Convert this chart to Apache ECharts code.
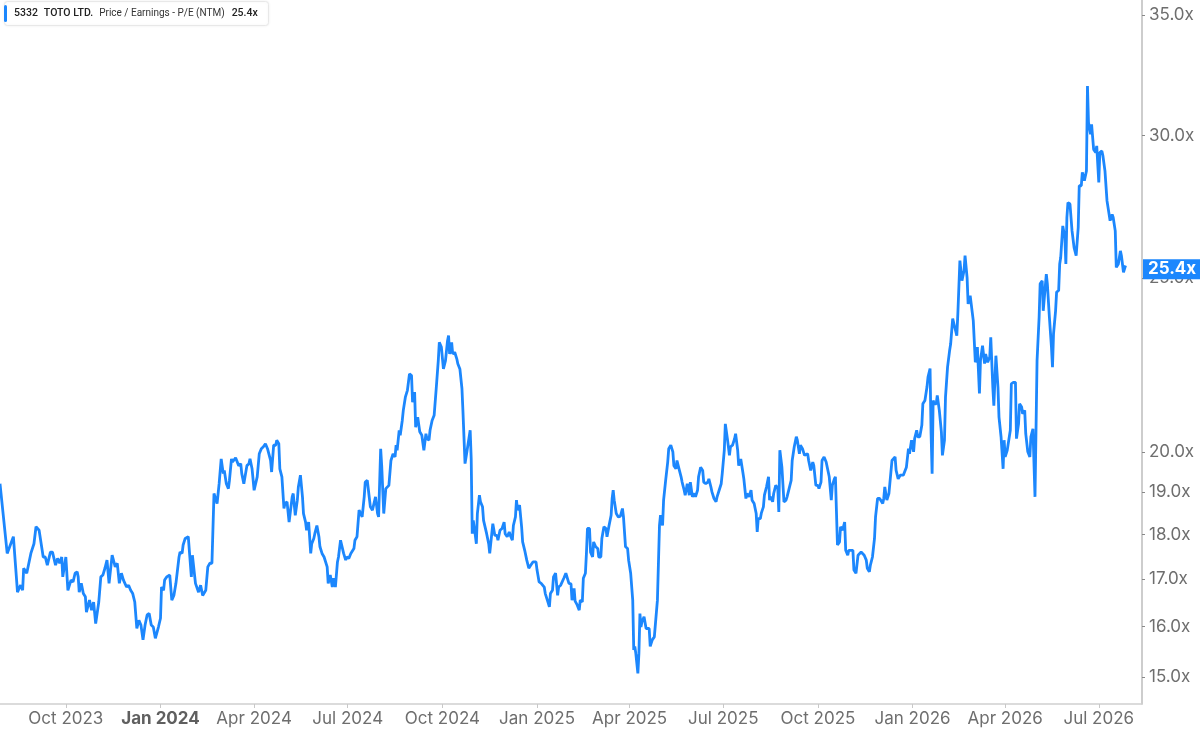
<!DOCTYPE html>
<html>
<head>
<meta charset="utf-8">
<script src="https://cdn.jsdelivr.net/npm/echarts@6.0.0/dist/echarts.min.js"></script>
<style>
html,body{margin:0;padding:0;background:#fff;}
#chart{width:1200px;height:732px;}
</style>
</head>
<body>
<div id="chart"></div>
<script>
const dates = [
"2023-07-29","2023-08-05","2023-08-11","2023-08-15","2023-08-18","2023-08-20","2023-08-21","2023-08-24","2023-08-28","2023-08-31",
"2023-09-02","2023-09-05","2023-09-09","2023-09-11","2023-09-13","2023-09-16","2023-09-18","2023-09-21","2023-09-23","2023-09-25",
"2023-09-27","2023-09-28","2023-10-01","2023-10-03","2023-10-04","2023-10-06","2023-10-08","2023-10-10","2023-10-12","2023-10-13",
"2023-10-14","2023-10-16","2023-10-18","2023-10-20","2023-10-21","2023-10-24","2023-10-26","2023-10-28","2023-10-30","2023-10-31",
"2023-11-02","2023-11-04","2023-11-06","2023-11-08","2023-11-10","2023-11-12","2023-11-15","2023-11-16","2023-11-18","2023-11-20",
"2023-11-22","2023-11-24","2023-11-26","2023-11-29","2023-12-01","2023-12-03","2023-12-05","2023-12-07","2023-12-09","2023-12-11",
"2023-12-13","2023-12-15","2023-12-17","2023-12-19","2023-12-21","2023-12-23","2023-12-25","2023-12-27","2023-12-30","2024-01-01",
"2024-01-02","2024-01-04","2024-01-05","2024-01-07","2024-01-10","2024-01-12","2024-01-14","2024-01-16","2024-01-19","2024-01-20",
"2024-01-22","2024-01-23","2024-01-25","2024-01-28","2024-01-31","2024-02-01","2024-02-02","2024-02-04","2024-02-07","2024-02-09",
"2024-02-11","2024-02-14","2024-02-16","2024-02-18","2024-02-20","2024-02-22","2024-02-23","2024-02-25","2024-02-27","2024-02-29",
"2024-03-02","2024-03-03","2024-03-05","2024-03-07","2024-03-08","2024-03-10","2024-03-11","2024-03-14","2024-03-15","2024-03-17",
"2024-03-19","2024-03-20","2024-03-22","2024-03-23","2024-03-25","2024-03-27","2024-03-28","2024-03-30","2024-04-01","2024-04-02",
"2024-04-04","2024-04-06","2024-04-08","2024-04-10","2024-04-12","2024-04-14","2024-04-15","2024-04-17","2024-04-18","2024-04-20",
"2024-04-22","2024-04-23","2024-04-25","2024-04-26","2024-04-28","2024-04-30","2024-05-01","2024-05-03","2024-05-05","2024-05-06",
"2024-05-08","2024-05-09","2024-05-11","2024-05-13","2024-05-14","2024-05-16","2024-05-18","2024-05-19","2024-05-21","2024-05-22",
"2024-05-24","2024-05-26","2024-05-27","2024-05-29","2024-05-30","2024-06-01","2024-06-03","2024-06-04","2024-06-06","2024-06-08",
"2024-06-09","2024-06-11","2024-06-12","2024-06-14","2024-06-16","2024-06-17","2024-06-19","2024-06-21","2024-06-22","2024-06-24",
"2024-06-25","2024-06-27","2024-06-29","2024-06-30","2024-07-02","2024-07-04","2024-07-05","2024-07-07","2024-07-08","2024-07-10",
"2024-07-12","2024-07-13","2024-07-15","2024-07-17","2024-07-18","2024-07-20","2024-07-21","2024-07-23","2024-07-25","2024-07-26",
"2024-07-28","2024-07-30","2024-07-31","2024-08-02","2024-08-03","2024-08-05","2024-08-07","2024-08-08","2024-08-10","2024-08-12",
"2024-08-14","2024-08-16","2024-08-17","2024-08-18","2024-08-20","2024-08-21","2024-08-23","2024-08-24","2024-08-26","2024-08-28",
"2024-08-30","2024-09-01","2024-09-02","2024-09-04","2024-09-05","2024-09-07","2024-09-09","2024-09-11","2024-09-13","2024-09-15",
"2024-09-16","2024-09-18","2024-09-19","2024-09-21","2024-09-23","2024-09-25","2024-09-27","2024-09-28","2024-09-30","2024-10-01",
"2024-10-02","2024-10-04","2024-10-06","2024-10-07","2024-10-08","2024-10-10","2024-10-11","2024-10-13","2024-10-15","2024-10-16",
"2024-10-18","2024-10-20","2024-10-21","2024-10-23","2024-10-24","2024-10-26","2024-10-28","2024-10-29","2024-10-30","2024-10-31",
"2024-11-02","2024-11-03","2024-11-04","2024-11-06","2024-11-07","2024-11-09","2024-11-10","2024-11-13","2024-11-15","2024-11-16",
"2024-11-18","2024-11-19","2024-11-21","2024-11-23","2024-11-24","2024-11-26","2024-11-28","2024-11-30","2024-12-01","2024-12-03",
"2024-12-05","2024-12-06","2024-12-08","2024-12-09","2024-12-11","2024-12-12","2024-12-13","2024-12-15","2024-12-17","2024-12-18",
"2024-12-20","2024-12-22","2024-12-24","2024-12-26","2024-12-28","2024-12-31","2025-01-01","2025-01-03","2025-01-05","2025-01-08",
"2025-01-09","2025-01-11","2025-01-13","2025-01-14","2025-01-16","2025-01-17","2025-01-19","2025-01-21","2025-01-22","2025-01-24",
"2025-01-25","2025-01-27","2025-01-29","2025-01-30","2025-02-01","2025-02-03","2025-02-04","2025-02-06","2025-02-07","2025-02-09",
"2025-02-11","2025-02-12","2025-02-14","2025-02-15","2025-02-17","2025-02-18","2025-02-19","2025-02-21","2025-02-22","2025-02-24",
"2025-02-25","2025-02-27","2025-03-01","2025-03-02","2025-03-04","2025-03-05","2025-03-07","2025-03-09","2025-03-10","2025-03-12",
"2025-03-14","2025-03-15","2025-03-16","2025-03-17","2025-03-19","2025-03-21","2025-03-23","2025-03-25","2025-03-26","2025-03-28",
"2025-03-30","2025-03-31","2025-04-02","2025-04-04","2025-04-05","2025-04-06","2025-04-07","2025-04-09","2025-04-10","2025-04-11",
"2025-04-12","2025-04-13","2025-04-15","2025-04-17","2025-04-18","2025-04-20","2025-04-21","2025-04-23","2025-04-25","2025-04-26",
"2025-04-28","2025-04-30","2025-05-01","2025-05-03","2025-05-04","2025-05-06","2025-05-08","2025-05-09","2025-05-11","2025-05-13",
"2025-05-14","2025-05-16","2025-05-17","2025-05-19","2025-05-21","2025-05-22","2025-05-24","2025-05-25","2025-05-27","2025-05-29",
"2025-05-30","2025-06-01","2025-06-03","2025-06-04","2025-06-06","2025-06-07","2025-06-09","2025-06-11","2025-06-12","2025-06-14",
"2025-06-16","2025-06-17","2025-06-19","2025-06-20","2025-06-22","2025-06-24","2025-06-25","2025-06-27","2025-06-29","2025-06-30",
"2025-07-02","2025-07-03","2025-07-05","2025-07-07","2025-07-08","2025-07-10","2025-07-12","2025-07-13","2025-07-15","2025-07-16",
"2025-07-18","2025-07-20","2025-07-21","2025-07-23","2025-07-24","2025-07-26","2025-07-28","2025-07-29","2025-07-31","2025-08-02",
"2025-08-03","2025-08-04","2025-08-06","2025-08-07","2025-08-09","2025-08-10","2025-08-12","2025-08-14","2025-08-15","2025-08-16",
"2025-08-18","2025-08-19","2025-08-21","2025-08-23","2025-08-24","2025-08-25","2025-08-27","2025-08-29","2025-08-31","2025-09-01",
"2025-09-03","2025-09-05","2025-09-06","2025-09-08","2025-09-10","2025-09-11","2025-09-13","2025-09-14","2025-09-16","2025-09-18",
"2025-09-19","2025-09-21","2025-09-22","2025-09-24","2025-09-26","2025-09-27","2025-09-29","2025-10-01","2025-10-02","2025-10-04",
"2025-10-05","2025-10-07","2025-10-09","2025-10-10","2025-10-12","2025-10-14","2025-10-15","2025-10-17","2025-10-18","2025-10-20",
"2025-10-22","2025-10-23","2025-10-25","2025-10-27","2025-10-28","2025-10-30","2025-10-31","2025-11-02","2025-11-04","2025-11-05",
"2025-11-07","2025-11-09","2025-11-10","2025-11-12","2025-11-13","2025-11-15","2025-11-17","2025-11-18","2025-11-20","2025-11-21",
"2025-11-23","2025-11-25","2025-11-26","2025-11-28","2025-11-30","2025-12-01","2025-12-03","2025-12-04","2025-12-05","2025-12-07",
"2025-12-09","2025-12-10","2025-12-12","2025-12-13","2025-12-15","2025-12-16","2025-12-18","2025-12-20","2025-12-21","2025-12-23",
"2025-12-24","2025-12-26","2025-12-28","2025-12-29","2025-12-31","2026-01-02","2026-01-03","2026-01-05","2026-01-06","2026-01-08",
"2026-01-10","2026-01-11","2026-01-13","2026-01-15","2026-01-16","2026-01-18","2026-01-19","2026-01-20","2026-01-21","2026-01-22",
"2026-01-24","2026-01-25","2026-01-27","2026-01-29","2026-01-30","2026-02-01","2026-02-02","2026-02-04","2026-02-06","2026-02-07",
"2026-02-09","2026-02-11","2026-02-12","2026-02-13","2026-02-14","2026-02-16","2026-02-18","2026-02-20","2026-02-21","2026-02-23",
"2026-02-24","2026-02-26","2026-02-27","2026-03-01","2026-03-03","2026-03-04","2026-03-05","2026-03-07","2026-03-08","2026-03-10",
"2026-03-12","2026-03-13","2026-03-15","2026-03-17","2026-03-18","2026-03-20","2026-03-21","2026-03-23","2026-03-25","2026-03-26",
"2026-03-28","2026-03-30","2026-03-31","2026-04-01","2026-04-03","2026-04-04","2026-04-06","2026-04-07","2026-04-09","2026-04-11",
"2026-04-12","2026-04-14","2026-04-15","2026-04-17","2026-04-18","2026-04-20","2026-04-21","2026-04-23","2026-04-25","2026-04-26",
"2026-04-28","2026-04-29","2026-04-30","2026-05-02","2026-05-04","2026-05-05","2026-05-07","2026-05-08","2026-05-09","2026-05-11",
"2026-05-12","2026-05-14","2026-05-16","2026-05-17","2026-05-18","2026-05-20","2026-05-21","2026-05-23","2026-05-24","2026-05-25",
"2026-05-27","2026-05-29","2026-05-30","2026-05-31","2026-06-01","2026-06-03","2026-06-05","2026-06-07","2026-06-09","2026-06-10",
"2026-06-11","2026-06-12","2026-06-14","2026-06-15","2026-06-17","2026-06-19","2026-06-20","2026-06-21","2026-06-23","2026-06-24",
"2026-06-26","2026-06-28","2026-06-29","2026-07-01","2026-07-02","2026-07-04","2026-07-05","2026-07-07","2026-07-09","2026-07-10",
"2026-07-12","2026-07-14","2026-07-15","2026-07-17","2026-07-18","2026-07-20","2026-07-22","2026-07-23","2026-07-25","2026-07-27"
];
const peValues = [
19.21,17.57,17.95,16.72,16.87,16.76,17.24,17.13,17.57,17.79,
18.18,18.10,17.49,17.49,17.31,17.60,17.60,17.31,17.46,17.35,
17.49,17.05,17.49,16.76,16.72,16.98,16.94,17.13,17.16,17.05,
16.72,16.91,16.69,16.62,16.30,16.55,16.34,16.51,16.06,16.03,
16.51,17.05,17.09,17.24,17.42,16.91,17.53,17.49,17.27,17.35,
16.91,17.13,16.98,16.83,16.87,16.76,16.69,16.51,15.96,16.13,
16.03,15.73,16.03,16.24,16.27,16.03,15.99,15.76,15.99,16.17,
16.83,16.76,16.98,17.05,17.09,16.55,16.65,16.91,17.49,17.60,
17.57,17.76,17.91,17.95,17.05,17.53,17.57,16.91,16.72,16.87,
16.65,16.76,17.27,17.35,17.35,18.97,18.89,18.73,19.21,19.83,
19.46,19.54,19.21,19.09,19.29,19.83,19.75,19.86,19.83,19.66,
19.71,19.46,19.21,19.25,19.66,19.71,19.83,19.58,19.05,19.05,
19.38,19.96,20.09,20.14,20.22,20.09,20.09,19.79,19.50,20.18,
20.18,20.31,20.22,19.58,19.38,18.61,18.73,18.77,18.29,18.29,
18.89,18.97,18.45,18.81,19.13,19.42,18.89,18.49,18.29,18.10,
18.29,17.57,17.79,17.91,18.02,18.21,17.95,17.72,17.57,17.49,
17.46,17.27,16.91,17.09,16.83,17.02,16.83,17.38,17.49,17.87,
17.87,17.57,17.42,17.49,17.46,17.57,17.57,17.68,17.87,17.95,
18.57,18.61,18.41,18.89,19.25,19.29,19.25,18.65,18.57,18.53,
18.89,18.49,18.41,20.09,19.66,18.49,19.09,19.09,19.17,19.79,
19.96,19.88,20.18,20.05,20.57,20.44,20.83,21.10,21.46,21.65,
22.11,22.06,21.32,21.60,20.65,20.92,20.53,20.44,20.05,20.48,
20.35,20.31,20.57,20.83,20.97,21.70,22.49,23.02,22.88,22.88,
22.25,22.49,23.07,23.22,22.68,23.02,22.68,22.73,22.54,22.40,
22.25,21.70,21.06,19.71,19.88,20.22,20.57,19.83,18.02,18.33,
17.98,17.79,18.49,18.93,18.77,18.65,18.33,18.02,17.79,17.57,
18.02,18.25,17.98,17.98,17.87,18.10,18.14,18.29,18.02,17.95,
18.06,17.98,17.87,18.21,18.41,18.81,18.57,18.69,18.18,17.83,
17.64,17.42,17.24,17.31,17.38,17.38,17.20,16.94,16.91,16.83,
16.69,16.55,16.41,16.69,16.76,17.05,17.13,16.65,16.83,16.87,
16.91,17.02,17.13,17.09,16.91,16.90,16.55,16.80,16.53,16.45,
16.34,16.55,16.51,17.02,17.13,17.57,18.14,18.14,17.60,17.49,
17.83,17.72,17.68,17.49,17.49,17.91,18.18,18.14,17.95,18.21,
18.45,18.85,19.05,18.81,18.49,18.41,18.43,18.61,18.41,17.72,
17.68,17.42,17.13,16.55,15.53,15.60,15.46,15.07,15.46,16.27,
15.99,16.10,16.20,15.96,15.99,15.96,15.60,15.73,15.79,15.76,
16.55,18.21,18.45,18.21,18.81,19.29,19.75,20.09,20.18,20.01,
19.66,19.58,19.79,19.58,19.38,19.25,19.05,18.93,19.21,18.93,
19.25,18.89,18.97,18.89,19.05,19.38,19.62,19.54,19.25,19.21,
19.25,19.33,19.13,19.01,18.85,18.77,18.89,19.05,19.21,19.46,
20.05,20.74,20.35,19.92,20.14,20.18,20.35,20.48,20.05,19.66,
19.83,19.50,19.33,18.85,18.97,18.89,19.05,18.81,18.73,18.49,
18.06,18.37,18.37,18.50,18.65,18.93,19.13,19.38,18.81,18.89,
18.77,18.97,19.17,19.09,18.53,20.05,19.62,18.77,18.81,18.89,
19.09,19.29,19.79,20.14,20.40,20.31,19.96,20.18,20.09,19.92,
19.96,19.96,19.79,19.54,19.75,19.66,19.17,19.17,19.09,19.25,
19.79,19.88,19.75,19.75,19.38,18.81,19.17,19.33,19.38,17.76,
17.83,18.18,18.10,18.29,17.64,17.53,17.64,17.64,17.64,17.20,
17.13,17.53,17.57,17.60,17.57,17.53,17.42,17.24,17.16,17.31,
17.49,17.91,18.41,18.85,18.85,18.81,18.73,18.85,19.13,18.81,
18.97,18.93,19.79,19.83,19.88,19.54,19.33,19.42,19.46,19.42,
19.46,19.62,20.09,19.96,20.31,20.01,20.35,20.57,20.40,20.40,
20.70,21.28,21.37,21.74,22.02,22.26,20.48,19.46,21.37,21.28,
21.28,21.51,21.10,20.53,19.92,20.31,21.46,22.30,22.78,22.97,
23.73,23.47,23.47,23.22,23.87,25.56,24.91,25.23,25.72,25.01,
24.18,24.44,24.49,23.67,22.44,22.54,22.88,21.56,22.49,22.92,
22.40,22.68,22.44,22.59,23.17,21.74,21.23,22.63,21.74,20.92,
20.40,19.58,20.31,19.88,20.05,20.09,20.57,21.83,21.87,21.87,
20.35,20.74,21.28,21.19,21.01,21.10,20.48,20.01,19.88,20.40,
20.61,20.65,18.89,22.49,23.77,24.81,24.91,23.97,24.02,25.12,
24.81,23.77,22.88,22.30,23.27,23.97,24.55,24.60,25.45,25.67,
26.72,26.33,25.45,27.01,27.53,27.48,26.55,25.99,25.72,25.67,
26.66,28.13,28.13,28.62,28.31,28.67,31.96,30.50,30.05,30.43,
29.47,29.35,29.60,28.25,29.35,29.41,29.23,28.67,27.59,27.65,
26.90,27.12,27.01,26.55,25.34,25.45,25.88,25.72,25.18,25.40
];
const yTickValues = [15, 16, 17, 18, 19, 20, 25, 30, 35];
const xTickDates = ["2023-10-01","2024-01-01","2024-04-01","2024-07-01","2024-10-01","2025-01-01","2025-04-01","2025-07-01","2025-10-01","2026-01-01","2026-04-01","2026-07-01"];
const xRange = ["2023-07-29", "2026-08-12"];
const boldTickLabels = ["Jan 2024"];
const lastValue = 25.4;
const titleTicker = "5332";
const titleName = "TOTO LTD.";
const titleMetric = "Price / Earnings - P/E (NTM)";

const MONTHS = ["Jan","Feb","Mar","Apr","May","Jun","Jul","Aug","Sep","Oct","Nov","Dec"];
const BLUE = "#1c87fd";
const ts = s => Date.parse(s + "T00:00:00Z");
const seriesData = dates.map((d, i) => [ts(d), Math.log(peValues[i])]);
const xTicks = xTickDates.map(ts);
const yTicks = yTickValues.map(Math.log);

const chart = echarts.init(document.getElementById('chart'), null, {renderer: 'canvas'});
chart.setOption({
  animation: false,
  backgroundColor: '#ffffff',
  textStyle: {fontFamily: 'Inter, Roboto, sans-serif'},
  title: {
    left: 4, top: 2,
    padding: [3, 11, 3, 0],
    backgroundColor: '#ffffff',
    borderColor: '#e8e8e8', borderWidth: 1, borderRadius: 3,
    shadowColor: 'rgba(0,0,0,0.06)', shadowBlur: 3,
    text: '{bar|}{t|' + titleTicker + '}{n|' + titleName + '}{m|' + titleMetric + '}{v|' + lastValue.toFixed(1) + 'x}',
    textStyle: {
      rich: {
        bar: {width: 3, height: 17, backgroundColor: BLUE, borderRadius: 2},
        t: {fontFamily: 'Roboto', fontSize: 10.5, fontWeight: 500, color: '#222', padding: [0, 0, 0, 7]},
        n: {fontFamily: 'Roboto', fontSize: 10.5, fontWeight: 500, color: '#222', padding: [0, 0, 0, 6]},
        m: {fontFamily: 'Roboto', fontSize: 10, fontWeight: 400, color: '#333', padding: [0, 0, 0, 6]},
        v: {fontFamily: 'Roboto', fontSize: 10.5, fontWeight: 500, color: '#222', padding: [0, 0, 0, 7]}
      }
    }
  },
  grid: {left: 0, right: 58, top: 0, bottom: 28, containLabel: false},
  xAxis: {
    type: 'value',
    min: ts(xRange[0]),
    max: ts(xRange[1]),
    axisLine: {show: true, onZero: false, lineStyle: {color: '#cfcfcf', width: 1.5}},
    axisTick: {show: true, length: 4, lineStyle: {color: '#c8c8c8'}, customValues: xTicks},
    splitLine: {show: false},
    axisLabel: {
      customValues: xTicks,
      margin: 6,
      fontFamily: 'Inter',
      fontSize: 17,
      color: '#6e6e6e',
      formatter: function (val) {
        const d = new Date(val);
        const s = MONTHS[d.getUTCMonth()] + ' ' + d.getUTCFullYear();
        return boldTickLabels.indexOf(s) >= 0 ? '{b|' + s + '}' : s;
      },
      rich: {b: {fontFamily: 'Inter', fontSize: 17, fontWeight: 'bold', color: '#5f5f5f'}}
    }
  },
  yAxis: {
    type: 'value',
    position: 'right',
    min: Math.log(14.49),
    max: Math.log(35.68),
    axisLine: {show: true, lineStyle: {color: '#bdbdbd', width: 1.5}},
    axisTick: {show: true, length: 3, lineStyle: {color: '#888'}, customValues: yTicks},
    splitLine: {show: false},
    axisLabel: {
      customValues: yTicks,
      margin: 7,
      fontFamily: 'Inter',
      fontSize: 17,
      color: '#6e6e6e',
      formatter: function (v) { return Math.exp(v).toFixed(1) + 'x'; }
    }
  },
  series: [{
    type: 'line',
    data: seriesData,
    showSymbol: false,
    symbol: 'none',
    lineStyle: {color: BLUE, width: 2.8},
    z: 3,
    markLine: {
      silent: true,
      symbol: 'none',
      animation: false,
      lineStyle: {color: 'rgba(0,0,0,0)', width: 0, type: 'solid'},
      data: [{yAxis: Math.log(lastValue)}],
      label: {
        show: true,
        position: 'end',
        distance: 1,
        formatter: lastValue.toFixed(1) + 'x',
        backgroundColor: BLUE,
        color: '#ffffff',
        opacity: 1,
        fontFamily: 'Inter',
        fontWeight: 'bold',
        fontSize: 17,
        padding: [2, 6, 1, 5]
      }
    }
  }]
});
</script>
</body>
</html>
